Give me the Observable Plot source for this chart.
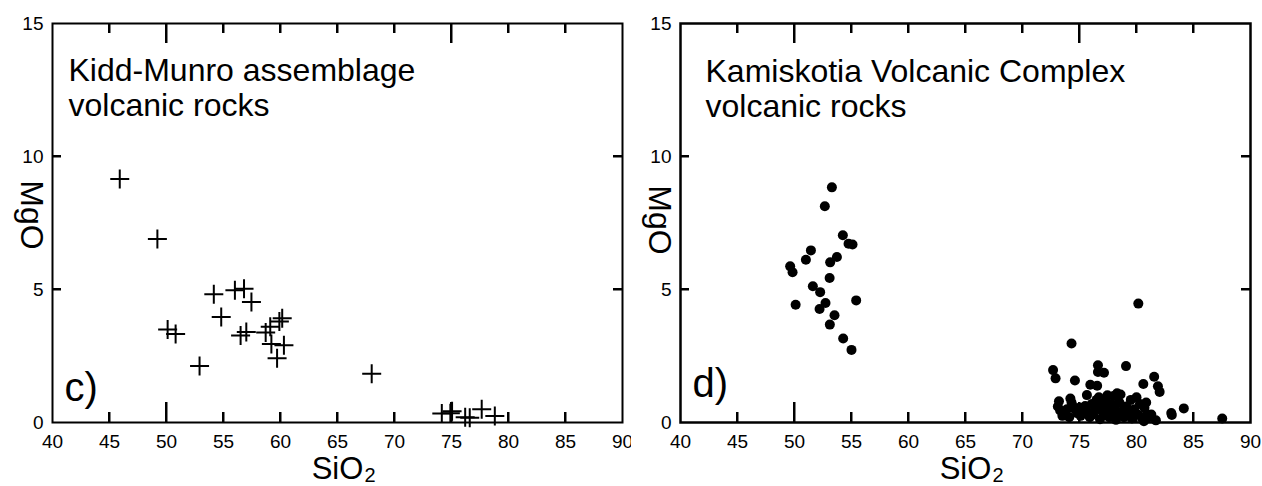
<!DOCTYPE html>
<html><head><meta charset="utf-8">
<script src="https://cdn.jsdelivr.net/npm/d3@7"></script>
<script src="https://cdn.jsdelivr.net/npm/@observablehq/plot@0.6"></script>
<style>
html,body{margin:0;padding:0;background:#fff;}
#wrap{position:relative;width:1262px;height:486px;overflow:hidden;background:#fff;}
#wrap > svg{position:absolute;top:0;}
</style></head><body><div id="wrap"></div>
<script>
// Axis ticks
const xTickLabels = [40, 45, 50, 55, 60, 65, 70, 75, 80, 85, 90];
const yTickLabels = [0, 5, 10, 15];
const xShortTicks = [45, 55, 60, 65, 70, 80, 85];
const xLongTicks = [50, 75];
const yInnerTicks = [5, 10];

// Panel c) Kidd-Munro assemblage
const kiddSiO2 = [45.9, 49.2, 50.1, 50.8, 52.9, 54.15, 54.8, 56.0, 56.8, 57.45, 56.5, 57.0, 58.7, 59.1, 59.9, 60.15, 59.2, 60.3, 59.7, 68.0, 74.15, 74.9, 75.05, 76.2, 76.6, 77.65, 78.8];
const kiddMgO  = [9.15, 6.9, 3.5, 3.33, 2.12, 4.82, 3.97, 4.97, 5.03, 4.53, 3.27, 3.4, 3.38, 3.6, 3.8, 3.92, 2.95, 2.9, 2.42, 1.83, 0.34, 0.35, 0.42, 0.2, 0.18, 0.5, 0.24];

// Panel d) Kamiskotia Volcanic Complex
const kamSiO2 = [53.28, 52.66, 54.24, 54.74, 55.09, 51.44, 53.72, 53.13, 51.0, 49.62, 49.83, 53.08, 51.61, 52.25, 55.41, 50.1, 52.72, 52.2, 53.51, 53.1, 54.27, 55.0,
  80.16, 74.3, 79.08, 72.68, 72.9, 74.6, 76.62, 76.62, 77.15, 75.95, 76.55, 75.65, 80.6, 81.55, 81.88, 82.03, 83.05, 83.1, 84.15, 87.52,
  73.2, 73.1, 73.3, 73.6, 73.5, 73.9, 74.1, 74.2, 74.3, 74.4, 74.6, 74.8, 75.0, 75.1, 75.3, 75.5, 75.7, 75.9, 76.1, 76.2, 76.4, 76.5, 76.7, 76.8, 76.9, 77.0, 77.2, 77.3, 77.45, 77.5, 77.6, 77.8, 77.9, 78.0, 78.1, 78.2, 78.3, 78.4, 78.5, 78.6, 78.8, 78.9, 79.1, 79.3, 79.5, 79.6, 79.8, 80.0, 80.1, 80.3, 80.5, 80.7, 80.85, 80.9, 81.1, 81.3, 81.7, 80.65];
const kamMgO = [8.84, 8.13, 7.04, 6.72, 6.69, 6.47, 6.22, 6.02, 6.12, 5.87, 5.65, 5.43, 5.12, 4.9, 4.59, 4.43, 4.49, 4.27, 4.03, 3.68, 3.16, 2.73,
  4.47, 2.97, 2.12, 1.97, 1.66, 1.58, 2.15, 1.9, 1.87, 1.42, 1.38, 1.03, 1.45, 1.72, 1.36, 1.15, 0.36, 0.28, 0.53, 0.15,
  0.8, 0.6, 0.45, 0.35, 0.25, 0.5, 0.2, 0.9, 0.75, 0.62, 0.5, 0.35, 0.55, 0.25, 0.45, 0.62, 0.4, 0.2, 0.7, 0.3, 0.55, 0.85, 0.95, 0.12, 0.45, 0.65, 0.3, 0.8, 1.02, 0.5, 0.2, 0.7, 0.4, 1.0, 0.6, 0.1, 1.1, 0.3, 0.75, 1.05, 0.45, 0.2, 0.6, 0.35, 0.85, 0.15, 0.5, 0.95, 0.3, 0.7, 0.15, 0.55, 0.75, 0.3, 0.2, 0.3, 0.08, 0.05];

const FONT = "'Liberation Sans', Arial, Helvetica, sans-serif";
const W = 631, H = 486, MT = 23, MB = 64;
const innerH = H - MT - MB;

const plusSymbol = {draw(context, size) {
  const r = Math.sqrt(size / Math.PI);
  context.moveTo(-r, 0); context.lineTo(r, 0);
  context.moveTo(0, -r); context.lineTo(0, r);
}};

function panel({offset, marginLeft, marginRight, dataMarks, title, letter, titleDx, titleDy, mgoDx, mgoDy, letterDy, frameWidth}) {
  const innerW = W - marginLeft - marginRight;
  const tk = {stroke: "black", strokeWidth: 2};
  const svg = Plot.plot({
    width: W, height: H,
    marginLeft, marginRight, marginTop: MT, marginBottom: MB,
    x: {domain: [40, 90], axis: null},
    y: {domain: [0, 15], axis: null},
    style: {fontFamily: FONT, background: "white", color: "black", overflow: "visible"},
    marks: [
      Plot.frame({fill: "none", stroke: "black", strokeWidth: frameWidth}),
      Plot.ruleX(xShortTicks, {x: d => d, insetTop: innerH - 10, ...tk}),
      Plot.ruleX(xLongTicks, {x: d => d, insetTop: innerH - 20, ...tk}),
      Plot.ruleX(xShortTicks, {x: d => d, insetBottom: innerH - 10, ...tk}),
      Plot.ruleX(xLongTicks, {x: d => d, insetBottom: innerH - 20, ...tk}),
      Plot.ruleY(yInnerTicks, {y: d => d, insetRight: innerW - 9, ...tk}),
      Plot.ruleY(yInnerTicks, {y: d => d, insetLeft: innerW - 9, ...tk}),
      Plot.text(xTickLabels, {x: d => d, frameAnchor: "bottom", lineAnchor: "middle", dy: 19, fontSize: 19, fill: "black"}),
      Plot.text(yTickLabels, {y: d => d, frameAnchor: "left", lineAnchor: "middle", dx: -9, textAnchor: "end", fontSize: 19, fill: "black"}),
      Plot.text(["SiO"], {frameAnchor: "bottom", dy: 56, lineAnchor: "bottom", textAnchor: "middle", fontSize: 31, fill: "black"}),
      Plot.text(["2"], {frameAnchor: "bottom", dx: 27, dy: 59, lineAnchor: "bottom", textAnchor: "start", fontSize: 20, fill: "black"}),
      Plot.text(["MgO"], {frameAnchor: "left", dx: mgoDx, dy: mgoDy, rotate: 90, textAnchor: "middle", lineAnchor: "middle", fontSize: 32, fill: "black"}),
      Plot.text([title], {frameAnchor: "top-left", dx: titleDx, dy: titleDy, lineAnchor: "top", textAnchor: "start", lineHeight: 1.1, fontSize: 32, fill: "black"}),
      Plot.text([letter], {frameAnchor: "bottom-left", dx: 12, dy: letterDy, lineAnchor: "bottom", textAnchor: "start", fontSize: 40, fill: "black"}),
      ...dataMarks
    ]
  });
  svg.style.left = offset + "px";

  // Reinforce inward ticks using Plot's own scales
  const sx = svg.scale("x"), sy = svg.scale("y");
  const yb = sy.apply(0), yt = sy.apply(15), xl = sx.apply(40), xr = sx.apply(90);
  const segs = [];
  xShortTicks.forEach(v => { const X = sx.apply(v); segs.push([X, yb, X, yb - 10], [X, yt, X, yt + 10]); });
  xLongTicks.forEach(v => { const X = sx.apply(v); segs.push([X, yb, X, yb - 20], [X, yt, X, yt + 20]); });
  yInnerTicks.forEach(v => { const Y = sy.apply(v); segs.push([xl, Y, xl + 9, Y], [xr, Y, xr - 9, Y]); });
  d3.select(svg).append("g").attr("stroke", "black").attr("stroke-width", 2)
    .selectAll("line").data(segs).join("line")
    .attr("x1", d => d[0]).attr("y1", d => d[1]).attr("x2", d => d[2]).attr("y2", d => d[3]);
  return svg;
}

const wrap = document.getElementById("wrap");
wrap.appendChild(panel({
  offset: 0, marginLeft: 52, marginRight: 9, frameWidth: 2,
  title: "Kidd-Munro assemblage\nvolcanic rocks", letter: "c)",
  titleDx: 16, titleDy: 32, mgoDx: -21, mgoDy: -8, letterDy: -22,
  dataMarks: [
    Plot.dot(kiddSiO2, {x: d => d, y: (d, i) => kiddMgO[i], symbol: plusSymbol, r: 9.5, fill: "none", stroke: "black", strokeWidth: 2})
  ]
}));
wrap.appendChild(panel({
  offset: 631, marginLeft: 49, marginRight: 12, frameWidth: 2.5,
  title: "Kamiskotia Volcanic Complex\nvolcanic rocks", letter: "d)",
  titleDx: 25, titleDy: 33, mgoDx: -21, mgoDy: -3, letterDy: -26,
  dataMarks: [
    Plot.dot(kamSiO2, {x: d => d, y: (d, i) => kamMgO[i], r: 5, fill: "black", stroke: "none"})
  ]
}));
</script>
</body></html>
